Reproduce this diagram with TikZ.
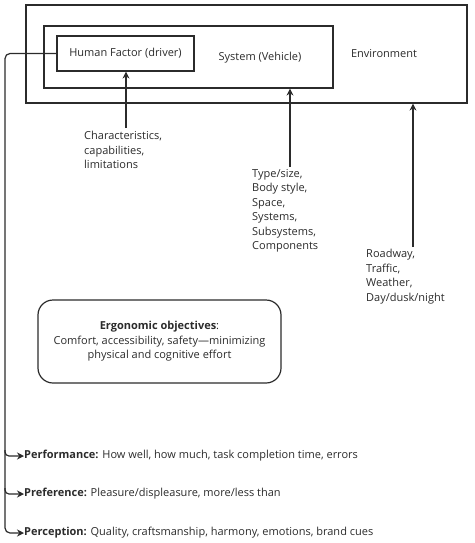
\documentclass[tikz,border=0pt]{standalone}
\usepackage{fontspec}
\setmainfont{Open Sans}
\usetikzlibrary{arrows.meta}
\definecolor{ink}{HTML}{2B2B2B}
\begin{document}
\begin{tikzpicture}[x=1pt,y=-1pt,
  box/.style={draw=ink,line width=1.2pt,inner sep=0pt},
  lbl/.style={text=ink,font=\fontsize{11}{14.5}\selectfont,inner sep=0pt},
  txt/.style={lbl,align=left,anchor=north west},
  arr/.style={draw=ink,line width=1.2pt,-{Stealth[length=7pt,width=7pt]}}]
\useasboundingbox (0,0) rectangle (474,543);
\node[box,minimum width=441pt,minimum height=98pt] (env) at (246.5,54) {};
\node[box,minimum width=289pt,minimum height=62pt] (sys) at (188.5,57) {};
\node[box,minimum width=137pt,minimum height=35pt] (hf) at (125.5,53.5) {};
\node[lbl] (hft) at (hf.center) {Human Factor (driver)};
\node[lbl] (syst) at (260,58) {System (Vehicle)};
\node[lbl] (envt) at (384,54) {Environment};
\node[txt] (ch) at (84,131) {Characteristics,\\capabilities,\\limitations};
\node[txt] (ty) at (252,169) {Type/size,\\Body style,\\Space,\\Systems,\\Subsystems,\\Components};
\node[txt] (rd) at (366,249) {Roadway,\\Traffic,\\Weather,\\Day/dusk/night};
\coordinate (c1) at (126,128);
\coordinate (c2) at (290,167);
\coordinate (c3) at (413,247);
\draw[arr] (c1) -- (c1 |- hf.south);
\draw[arr] (c2) -- (c2 |- sys.south);
\draw[arr] (c3) -- (c3 |- env.south);
\node[box,rounded corners=15pt,minimum width=243pt,minimum height=83pt] (ergo) at (159.5,341.5) {};
\node[lbl,align=center] (ergot) at (ergo.center) {\textbf{Ergonomic objectives}:\\Comfort, accessibility, safety—minimizing\\physical and cognitive effort};
\node[lbl,anchor=west] (perf) at (24,456) {\textbf{Performance:} How well, how much, task completion time, errors};
\node[lbl,anchor=west] (pref) at (24,494) {\textbf{Preference:} Pleasure/displeasure, more/less than};
\node[lbl,anchor=west] (perc) at (24,533) {\textbf{Perception:} Quality, craftsmanship, harmony, emotions, brand cues};
\coordinate (j1) at (5,450);
\coordinate (j2) at (5,488);
\draw[arr,rounded corners=5pt] (hf.west) -- (5,53.5) -- (5,533) -- (perc.west);
\draw[arr,rounded corners=4pt] (j1) -- (5,456) -- (perf.west);
\draw[arr,rounded corners=4pt] (j2) -- (5,494) -- (pref.west);
\end{tikzpicture}
\end{document}
